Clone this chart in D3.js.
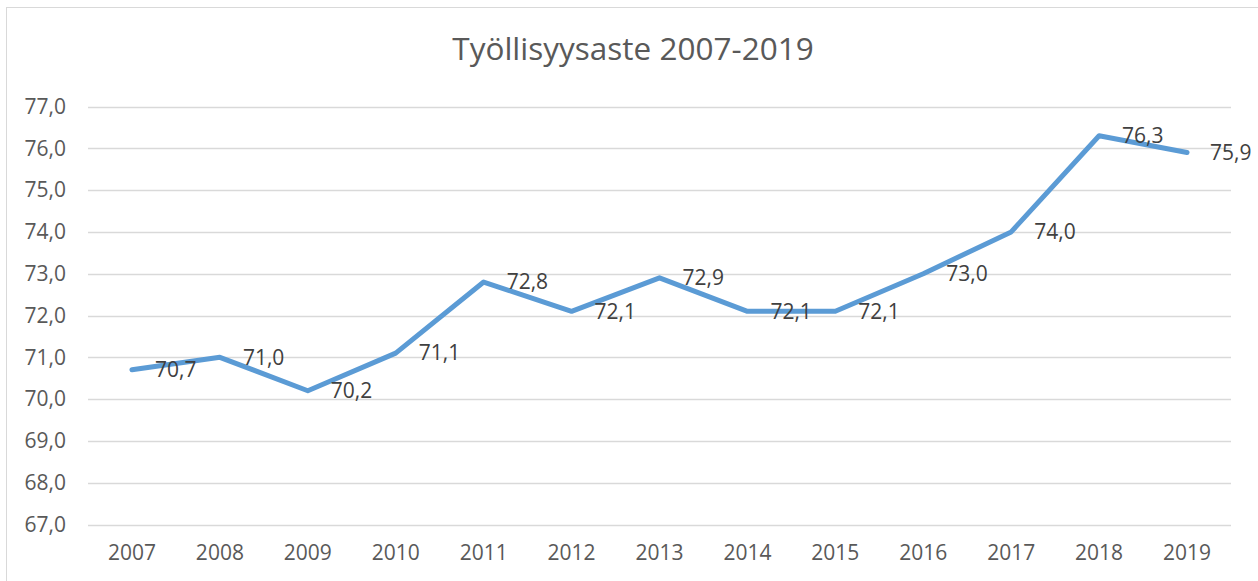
<!DOCTYPE html>
<html>
<head>
<meta charset="utf-8">
<script src="https://cdn.jsdelivr.net/npm/d3@7"></script>
<style>
  html, body { margin: 0; padding: 0; background: #fff; }
  svg { display: block; }
  text { font-family: "Open Sans", sans-serif; }
</style>
</head>
<body>
<svg id="chart" width="1258" height="581"></svg>
<script>
const titleText = "Työllisyysaste 2007-2019";
const years = ["2007","2008","2009","2010","2011","2012","2013","2014","2015","2016","2017","2018","2019"];
const values = [70.7, 71.0, 70.2, 71.1, 72.8, 72.1, 72.9, 72.1, 72.1, 73.0, 74.0, 76.3, 75.9];
const yTicks = [67, 68, 69, 70, 71, 72, 73, 74, 75, 76, 77];

const svg = d3.select("#chart");
const W = 1258, H = 581;
const margin = { left: 88, right: 27, top: 106.5, bottom: 56.5 };

const fmt = v => d3.format(".1f")(v).replace(".", ",");

// chart border
svg.append("rect")
  .attr("x", 6.5).attr("y", 7.5)
  .attr("width", W + 20).attr("height", H + 20)
  .attr("fill", "#fff").attr("stroke", "#d9d9d9").attr("stroke-width", 1);

const x = d3.scaleBand().domain(years).range([margin.left, W - margin.right]);
const y = d3.scaleLinear().domain([67, 77]).range([H - margin.bottom, margin.top]);

// gridlines
svg.append("g").selectAll("line").data(yTicks).join("line")
  .attr("x1", margin.left).attr("x2", W - margin.right)
  .attr("y1", d => Math.round(y(d)) + 0.5).attr("y2", d => Math.round(y(d)) + 0.5)
  .attr("stroke", "#d9d9d9").attr("stroke-width", 1.3);

// y axis
const yAxis = svg.append("g")
  .attr("transform", `translate(${margin.left},0)`)
  .call(d3.axisLeft(y).tickValues(yTicks).tickFormat(fmt).tickSize(0).tickPadding(22));
yAxis.select(".domain").remove();
yAxis.selectAll("text").attr("font-size", 21).attr("fill", "#595959")
  .attr("font-family", "Open Sans, sans-serif");

// x axis
const xAxis = svg.append("g")
  .attr("transform", `translate(0,${H - margin.bottom})`)
  .call(d3.axisBottom(x).tickSize(0).tickPadding(21));
xAxis.select(".domain").remove();
xAxis.selectAll("text").attr("font-size", 21).attr("fill", "#595959")
  .attr("font-family", "Open Sans, sans-serif");

// line
const line = d3.line()
  .x((d, i) => x(years[i]) + x.bandwidth() / 2)
  .y(d => y(d));
svg.append("path").datum(values)
  .attr("d", line)
  .attr("fill", "none")
  .attr("stroke", "#5B9BD5")
  .attr("stroke-width", 5)
  .attr("stroke-linejoin", "round")
  .attr("stroke-linecap", "round");

// data labels
svg.append("g").selectAll("text").data(values).join("text")
  .attr("x", (d, i) => x(years[i]) + x.bandwidth() / 2 + 23)
  .attr("y", d => y(d))
  .attr("dy", "0.35em")
  .attr("font-size", 21)
  .attr("fill", "#404040")
  .text(d => fmt(d));

// title
svg.append("text")
  .attr("x", 633).attr("y", 60)
  .attr("text-anchor", "middle")
  .attr("font-size", 31.5)
  .attr("fill", "#595959")
  .text(titleText);
</script>
</body>
</html>
